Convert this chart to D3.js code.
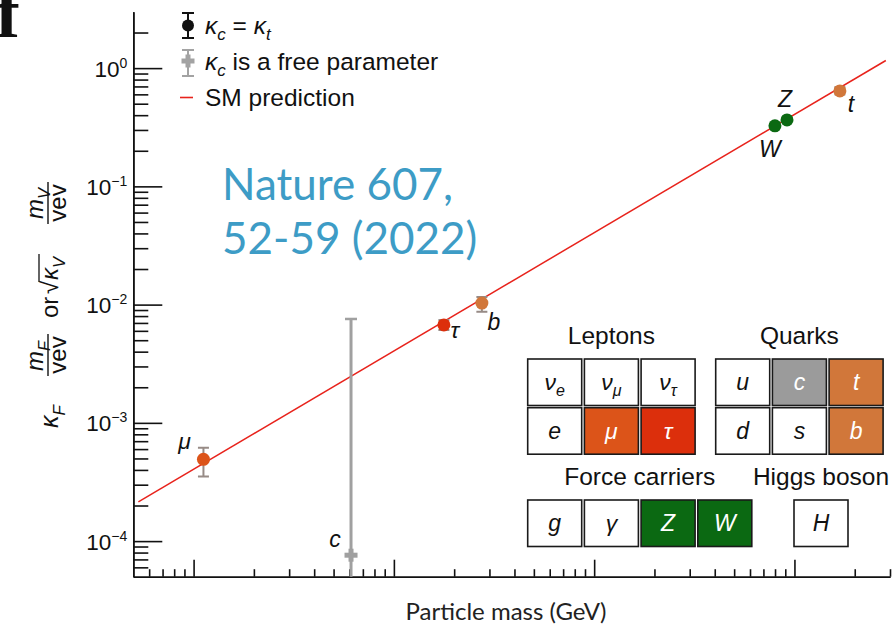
<!DOCTYPE html>
<html>
<head>
<meta charset="utf-8">
<script src="https://cdn.jsdelivr.net/npm/d3@7"></script>
<style>
  body { margin: 0; background: #fff; }
  svg { display: block; font-family: "Liberation Sans", Arial, sans-serif; }
</style>
</head>
<body>
<svg id="chart" width="896" height="630"></svg>
<script>
// fit with kappa_c = kappa_t
const names = ['μ', 'τ', 'b', 'W', 'Z', 't'];
const masses = [0.112, 1.777, 2.75, 79.9, 91.8, 168.6];
const values = [4.92e-4, 6.73e-3, 1.03e-2, 0.325, 0.365, 0.642];
const errLow = [3.51e-4, 6.1e-3, 8.7e-3, 0.318, 0.357, 0.60];
const errHigh = [6.15e-4, 7.4e-3, 1.16e-2, 0.333, 0.373, 0.69];

// kappa_c left free
const freeName = 'c';
const freeMass = [0.611];
const freeValue = [7.6e-5];
const freeHigh = [7.56e-3];
const freeLow = [1e-6];

// SM line end points
const smMasses = [0.053, 286];
const smValues = [2.15e-4, 1.16];

// axes
const xDomain = [0.05, 300];
const yDomain = [5e-5, 3];

// particle table
const leptonCells = ['ν_e', 'ν_μ', 'ν_τ', 'e', 'μ', 'τ'];
const quarkCells = ['u', 'c', 't', 'd', 's', 'b'];
const bosonCells = ['g', 'γ', 'Z', 'W'];
const higgsCells = ['H'];

const colors = {
  'μ': '#dc5419', 'τ': '#dc2f0c', 'b': '#d1773a', 't': '#d1773a',
  'W': '#0b6912', 'Z': '#0b6912', 'c': '#9b9b9b'
};

const svg = d3.select('#chart');

const x = d3.scaleLog().domain(xDomain).range([133.3, 890]);
const y = d3.scaleLog().domain(yDomain).range([576.7, 11.7]);

const isDecade = v => Math.abs(Math.log10(v) - Math.round(Math.log10(v))) < 1e-9;

// ---- axes
const xTicks = x.ticks().filter(v => v > xDomain[0] && v <= xDomain[1]);
const yTicks = y.ticks().filter(v => v > yDomain[0] && v < yDomain[1]);

svg.append('g')
  .attr('class', 'x-minor')
  .attr('transform', `translate(0,${y.range()[0]})`)
  .call(d3.axisBottom(x).tickValues(xTicks.filter(v => !isDecade(v))).tickSize(-7.5).tickSizeOuter(0).tickFormat(''));
svg.append('g')
  .attr('class', 'x-major')
  .attr('transform', `translate(0,${y.range()[0]})`)
  .call(d3.axisBottom(x).tickValues(xTicks.filter(isDecade)).tickSize(-17).tickSizeOuter(0).tickFormat(''));

svg.append('g')
  .attr('class', 'y-minor')
  .attr('transform', `translate(${x.range()[0]},0)`)
  .call(d3.axisLeft(y).tickValues(yTicks.filter(v => !isDecade(v))).tickSize(-15).tickSizeOuter(0).tickFormat(''));
const yMajor = svg.append('g')
  .attr('class', 'y-major')
  .attr('transform', `translate(${x.range()[0]},0)`)
  .call(d3.axisLeft(y).tickValues(yTicks.filter(isDecade)).tickSize(-29).tickSizeOuter(0).tickFormat(''));

svg.selectAll('.domain, .tick line').attr('stroke', '#111').attr('stroke-width', 1.6);

yMajor.selectAll('.tick').each(function(d) {
  const e = Math.round(Math.log10(d));
  const t = d3.select(this).append('text')
    .attr('x', -6).attr('y', 8)
    .attr('text-anchor', 'end')
    .attr('fill', '#111')
    .attr('font-size', 22.5);
  t.append('tspan').text('10');
  t.append('tspan').attr('dy', -9).attr('font-size', 14).text(e === 0 ? '0' : '\u2212' + (-e));
});

// ---- y title (rotated, reads bottom to top)
const yt = svg.append('g')
  .attr('transform', 'translate(58,442) rotate(-90)')
  .attr('fill', '#111').attr('font-style', 'italic');

function symbol(g, x0, y0, main, sub, size) {
  const t = g.append('text').attr('x', x0).attr('y', y0).attr('font-size', size);
  t.append('tspan').text(main);
  if (sub) t.append('tspan').attr('dy', size * 0.28).attr('font-size', size * 0.68).text(sub);
  return t;
}
function fraction(g, cx, sub) {
  symbol(g, cx - 16, -15, 'm', sub, 24);
  g.append('line').attr('x1', cx - 21).attr('x2', cx + 21).attr('y1', -10).attr('y2', -10)
    .attr('stroke', '#111').attr('stroke-width', 1.4);
  g.append('text').attr('x', cx).attr('y', 8).attr('text-anchor', 'middle')
    .attr('font-size', 24).attr('font-style', 'normal').text('vev');
}
symbol(yt, 14, 0, 'κ', 'F', 25);
fraction(yt, 87, 'F');
yt.append('text').attr('x', 124).attr('y', 0).attr('font-size', 24).attr('font-style', 'normal').text('or');
yt.append('text').attr('x', 148).attr('y', 0).attr('font-size', 24).attr('font-style', 'normal').text('√');
symbol(yt, 162, 0, 'κ', 'V', 24);
yt.append('line').attr('x1', 160).attr('x2', 188).attr('y1', -19).attr('y2', -19)
  .attr('stroke', '#111').attr('stroke-width', 1.3);
fraction(yt, 239, 'V');

// ---- x title
svg.append('text')
  .attr('x', 506).attr('y', 620)
  .attr('text-anchor', 'middle')
  .attr('font-family', 'Lato, "Open Sans", sans-serif')
  .attr('font-size', 24)
  .attr('fill', '#222')
  .text('Particle mass (GeV)');

// ---- panel letter, cut at the top as in the source figure
svg.append('text')
  .attr('x', -4).attr('y', 37)
  .attr('font-family', '"Liberation Serif", serif')
  .attr('font-weight', 'bold')
  .attr('font-size', 72)
  .attr('fill', '#111')
  .text('f');

// ---- reference
const ref = svg.append('text')
  .attr('font-family', 'Lato, "Open Sans", sans-serif')
  .attr('font-size', 44)
  .attr('fill', '#3d9cc6');
ref.append('tspan').attr('x', 222).attr('y', 200).text('Nature 607,');
ref.append('tspan').attr('x', 222).attr('y', 254).text('52-59 (2022)');

// ---- plot area
svg.append('clipPath').attr('id', 'plot-clip')
  .append('rect')
  .attr('x', x.range()[0]).attr('y', 0)
  .attr('width', x.range()[1] - x.range()[0])
  .attr('height', y.range()[0]);

const plot = svg.append('g').attr('clip-path', 'url(#plot-clip)');

// SM prediction
plot.append('path')
  .datum(smMasses.map((m, i) => [m, smValues[i]]))
  .attr('fill', 'none')
  .attr('stroke', '#e8231c')
  .attr('stroke-width', 1.5)
  .attr('d', d3.line().x(d => x(d[0])).y(d => y(d[1])));

// kappa_c free: long gray bar with plus marker
const free = plot.selectAll('.free').data(freeMass).enter().append('g').attr('class', 'free');
free.append('line')
  .attr('x1', d => x(d)).attr('x2', d => x(d))
  .attr('y1', (d, i) => y(freeLow[i])).attr('y2', (d, i) => y(freeHigh[i]))
  .attr('stroke', '#a0a0a0').attr('stroke-width', 3);
free.append('line')
  .attr('x1', d => x(d) - 6).attr('x2', d => x(d) + 6)
  .attr('y1', (d, i) => y(freeHigh[i])).attr('y2', (d, i) => y(freeHigh[i]))
  .attr('stroke', '#a0a0a0').attr('stroke-width', 2.5);
free.append('rect')
  .attr('x', d => x(d) - 6.5).attr('y', (d, i) => y(freeValue[i]) - 2.5)
  .attr('width', 13).attr('height', 5).attr('fill', '#a0a0a0');
free.append('rect')
  .attr('x', d => x(d) - 2.5).attr('y', (d, i) => y(freeValue[i]) - 6.5)
  .attr('width', 5).attr('height', 13).attr('fill', '#a0a0a0');

// fitted points
const pts = plot.selectAll('.pt').data(names).enter().append('g').attr('class', 'pt');
pts.append('line')
  .attr('x1', (d, i) => x(masses[i])).attr('x2', (d, i) => x(masses[i]))
  .attr('y1', (d, i) => y(errLow[i])).attr('y2', (d, i) => y(errHigh[i]))
  .attr('stroke', '#978b86').attr('stroke-width', 2);
[errLow, errHigh].forEach(arr => {
  pts.append('line')
    .attr('x1', (d, i) => x(masses[i]) - 5.5).attr('x2', (d, i) => x(masses[i]) + 5.5)
    .attr('y1', (d, i) => y(arr[i])).attr('y2', (d, i) => y(arr[i]))
    .attr('stroke', '#978b86').attr('stroke-width', 2);
});
pts.append('circle')
  .attr('cx', (d, i) => x(masses[i])).attr('cy', (d, i) => y(values[i]))
  .attr('r', 6.5)
  .attr('fill', d => colors[d]);

// point labels
const labelOffsets = {
  'μ': [-19, -10], 'τ': [11, 13], 'b': [12, 27], 'W': [-5, 31], 'Z': [-2, -13], 't': [11, 21], 'c': [-16, -8]
};
const labelGroup = svg.append('g').attr('font-style', 'italic').attr('font-size', 23).attr('fill', '#111').attr('text-anchor', 'middle');
names.forEach((n, i) => {
  labelGroup.append('text')
    .attr('x', x(masses[i]) + labelOffsets[n][0])
    .attr('y', y(values[i]) + labelOffsets[n][1])
    .text(n);
});
labelGroup.append('text')
  .attr('x', x(freeMass[0]) + labelOffsets[freeName][0])
  .attr('y', y(freeValue[0]) + labelOffsets[freeName][1])
  .text(freeName);

// ---- legend
const lg = svg.append('g').attr('font-size', 24.5).attr('fill', '#111');
// black point
lg.append('line').attr('x1', 188).attr('x2', 188).attr('y1', 13).attr('y2', 38).attr('stroke', '#111').attr('stroke-width', 2);
lg.append('line').attr('x1', 182).attr('x2', 194).attr('y1', 13).attr('y2', 13).attr('stroke', '#111').attr('stroke-width', 2);
lg.append('line').attr('x1', 182).attr('x2', 194).attr('y1', 38).attr('y2', 38).attr('stroke', '#111').attr('stroke-width', 2);
lg.append('circle').attr('cx', 188).attr('cy', 25.5).attr('r', 6).attr('fill', '#111');
const l1 = lg.append('text').attr('x', 205).attr('y', 34);
l1.append('tspan').attr('font-style', 'italic').text('κ');
l1.append('tspan').attr('font-style', 'italic').attr('font-size', 17).attr('dy', 6).text('c');
l1.append('tspan').attr('dy', -6).text(' = ');
l1.append('tspan').attr('font-style', 'italic').text('κ');
l1.append('tspan').attr('font-style', 'italic').attr('font-size', 17).attr('dy', 6).text('t');
// gray plus
lg.append('line').attr('x1', 188).attr('x2', 188).attr('y1', 50).attr('y2', 76).attr('stroke', '#a3a3a3').attr('stroke-width', 2);
lg.append('line').attr('x1', 182).attr('x2', 194).attr('y1', 50).attr('y2', 50).attr('stroke', '#a3a3a3').attr('stroke-width', 2);
lg.append('line').attr('x1', 182).attr('x2', 194).attr('y1', 76).attr('y2', 76).attr('stroke', '#a3a3a3').attr('stroke-width', 2);
lg.append('rect').attr('x', 181.5).attr('y', 58.5).attr('width', 13).attr('height', 5).attr('fill', '#a3a3a3');
lg.append('rect').attr('x', 185.5).attr('y', 54.5).attr('width', 5).attr('height', 13).attr('fill', '#a3a3a3');
const l2 = lg.append('text').attr('x', 205).attr('y', 70);
l2.append('tspan').attr('font-style', 'italic').text('κ');
l2.append('tspan').attr('font-style', 'italic').attr('font-size', 17).attr('dy', 6).text('c');
l2.append('tspan').attr('dy', -6).text(' is a free parameter');
// SM line
lg.append('line').attr('x1', 180).attr('x2', 193).attr('y1', 97.5).attr('y2', 97.5).attr('stroke', '#e8231c').attr('stroke-width', 1.6);
lg.append('text').attr('x', 205).attr('y', 106).text('SM prediction');

// ---- particle table
const cellW = 54, cellH = 46.5, stepX = 56.7, stepY = 48.7;
const tableGroups = [
  {title: 'Leptons', cells: leptonCells, cols: 3, x0: 527.7, y0: 359},
  {title: 'Quarks', cells: quarkCells, cols: 3, x0: 715.7, y0: 359},
  {title: 'Force carriers', cells: bosonCells, cols: 4, x0: 527.7, y0: 500},
  {title: 'Higgs boson', cells: higgsCells, cols: 1, x0: 794, y0: 500}
];
const table = svg.append('g');
tableGroups.forEach(gr => {
  const w = (gr.cols - 1) * stepX + cellW;
  table.append('text')
    .attr('x', gr.x0 + w / 2).attr('y', gr.y0 - 15)
    .attr('text-anchor', 'middle').attr('font-size', 24.5).attr('fill', '#111')
    .text(gr.title);
  gr.cells.forEach((c, k) => {
    const [sym, sub] = c.split('_');
    const cx = gr.x0 + (k % gr.cols) * stepX;
    const cy = gr.y0 + Math.floor(k / gr.cols) * stepY;
    const fill = colors[sym] && !sub ? colors[sym] : '#fff';
    table.append('rect')
      .attr('x', cx).attr('y', cy).attr('width', cellW).attr('height', cellH)
      .attr('fill', fill).attr('stroke', '#1a1a1a').attr('stroke-width', 1.6);
    const t = table.append('text')
      .attr('x', cx + cellW / 2).attr('y', cy + cellH / 2 + 8)
      .attr('text-anchor', 'middle').attr('font-style', 'italic').attr('font-size', 23)
      .attr('fill', fill === '#fff' ? '#111' : '#fff');
    t.append('tspan').text(sym);
    if (sub) t.append('tspan').attr('dy', 6).attr('font-size', 16).text(sub);
  });
});
</script>
</body>
</html>
